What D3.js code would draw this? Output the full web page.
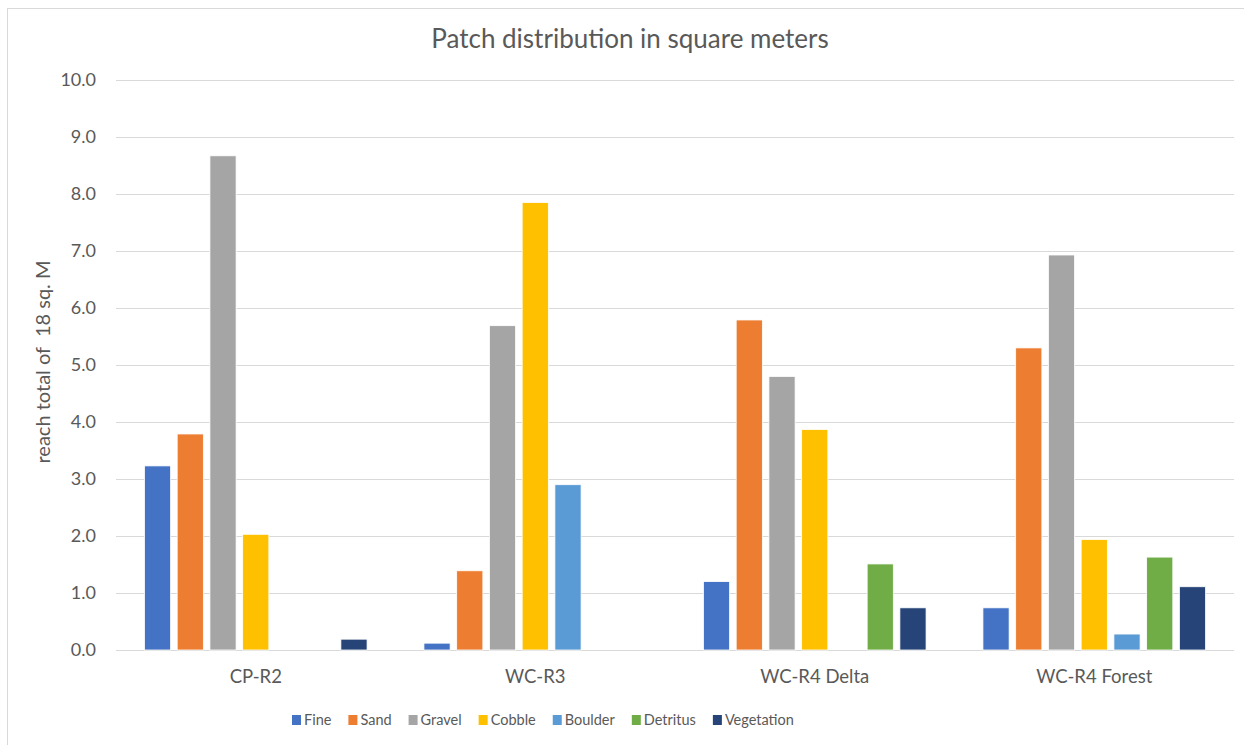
<!DOCTYPE html>
<html>
<head>
<meta charset="utf-8">
<script src="https://cdn.jsdelivr.net/npm/d3@7"></script>
<style>
  body { margin: 0; background: #fff; }
  text { font-family: Lato, "Noto Sans", sans-serif; fill: #595959; }
</style>
</head>
<body>
<div id="chart"></div>
<script>
// chart data
const sites = ["CP-R2", "WC-R3", "WC-R4 Delta", "WC-R4 Forest"];
const patchTypes = ["Fine", "Sand", "Gravel", "Cobble", "Boulder", "Detritus", "Vegetation"];
const fine       = [3.23, 0.12, 1.20, 0.74];
const sand       = [3.79, 1.39, 5.79, 5.30];
const gravel     = [8.67, 5.69, 4.80, 6.93];
const cobble     = [2.03, 7.85, 3.87, 1.94];
const boulder    = [0, 2.90, 0, 0.28];
const detritus   = [0, 0, 1.51, 1.63];
const vegetation = [0.19, 0, 0.74, 1.11];
const yTicks = [0, 1, 2, 3, 4, 5, 6, 7, 8, 9, 10];
const colors = ["#4472C4", "#ED7D31", "#A5A5A5", "#FFC000", "#5B9BD5", "#70AD47", "#264478"];

const series = [fine, sand, gravel, cobble, boulder, detritus, vegetation];

const width = 1244, height = 745;
const margin = { top: 80, right: 10, bottom: 95, left: 116 };

const svg = d3.select("#chart").append("svg")
    .attr("width", width)
    .attr("height", height);

// chart area border
svg.append("rect")
    .attr("x", 7.5).attr("y", 8.5)
    .attr("width", width + 10).attr("height", height + 10)
    .attr("fill", "none")
    .attr("stroke", "#d9d9d9");

const x0 = d3.scaleBand()
    .domain(sites)
    .range([margin.left, width - margin.right])
    .paddingInner(0.18)
    .paddingOuter(0.09);

const x1 = d3.scaleBand()
    .domain(patchTypes)
    .range([0, x0.bandwidth()])
    .paddingInner(0.2)
    .paddingOuter(0.1);

const y = d3.scaleLinear()
    .domain([0, 10])
    .range([height - margin.bottom, margin.top]);

const color = d3.scaleOrdinal(patchTypes, colors);

// gridlines + y labels
const yAxis = svg.append("g")
    .attr("transform", `translate(${margin.left},0)`)
    .call(d3.axisLeft(y).tickValues(yTicks).tickFormat(d3.format(".1f"))
        .tickSize(-(width - margin.right - margin.left)).tickPadding(20));
yAxis.select(".domain").remove();
yAxis.selectAll(".tick line").attr("stroke", "#d9d9d9").attr("stroke-width", 1.2);
yAxis.selectAll(".tick text").attr("font-size", 18).style("fill", "#595959");

// bars
const groups = svg.append("g").selectAll("g")
    .data(sites)
    .join("g")
    .attr("transform", d => `translate(${x0(d)},0)`);

groups.selectAll("rect")
    .data((site, i) => patchTypes.map((p, k) => ({ type: p, value: series[k][i] })))
    .join("rect")
    .filter(d => d.value > 0)
    .attr("x", d => x1(d.type))
    .attr("y", d => y(d.value))
    .attr("width", x1.bandwidth())
    .attr("height", d => y(0) - y(d.value))
    .attr("fill", d => color(d.type))
    .attr("stroke", "#fff")
    .attr("stroke-width", 0.8);

// category labels
svg.append("g").selectAll("text")
    .data(sites)
    .join("text")
    .attr("x", d => x0(d) + x0.bandwidth() / 2)
    .attr("y", 677)
    .attr("dy", "0.35em")
    .attr("text-anchor", "middle")
    .attr("font-size", 18.5)
    .text(d => d);

// title
svg.append("text")
    .attr("x", 630)
    .attr("y", 48)
    .attr("text-anchor", "middle")
    .attr("font-size", 26)
    .text("Patch distribution in square meters");

// y axis title
svg.append("text")
    .attr("transform", `translate(43,${(y(0) + y(10)) / 2 - 3}) rotate(-90)`)
    .attr("dy", "0.35em")
    .attr("text-anchor", "middle")
    .attr("font-size", 20)
    .style("white-space", "pre")
    .text("reach total of  18 sq. M");

// legend
const legend = svg.append("g").attr("transform", "translate(292,720)");
let lx = 0;
patchTypes.forEach((p, k) => {
    const item = legend.append("g").attr("transform", `translate(${lx},0)`);
    item.append("rect")
        .attr("x", 0).attr("y", -5)
        .attr("width", 9).attr("height", 10)
        .attr("fill", colors[k]);
    const t = item.append("text")
        .attr("x", 12)
        .attr("dy", "0.35em")
        .attr("font-size", 14.5)
        .text(p);
    lx += 12 + t.node().getComputedTextLength() + 17;
});
</script>
</body>
</html>
